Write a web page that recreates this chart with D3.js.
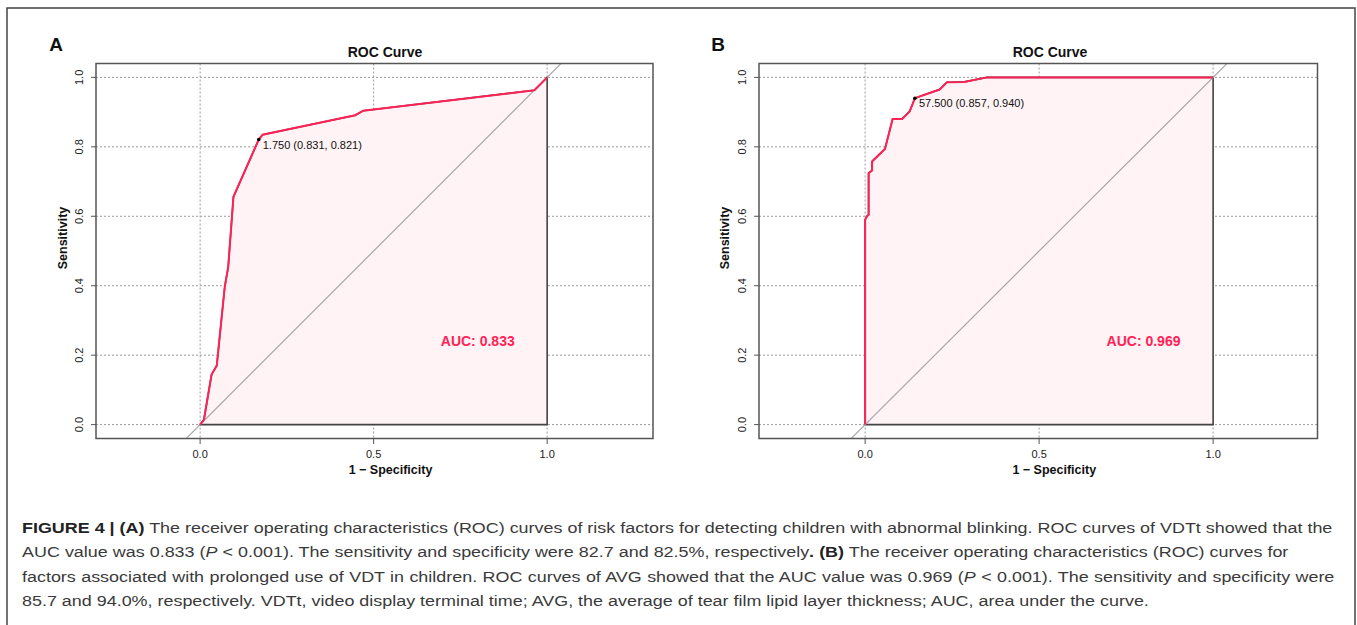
<!DOCTYPE html>
<html>
<head>
<meta charset="utf-8">
<script src="https://cdn.jsdelivr.net/npm/d3@7"></script>
<style>
  body { margin: 0; background: #fff; }
  text { font-family: "Liberation Sans", Arial, sans-serif; }
</style>
</head>
<body>
<svg id="chart"></svg>
<script>
// panel A: VDTt
var rocA_fpr = [0, 0.011, 0.033, 0.048, 0.071, 0.081, 0.096, 0.169, 0.18, 0.447, 0.47, 0.963, 1];
var rocA_tpr = [0, 0.014, 0.144, 0.17, 0.397, 0.454, 0.656, 0.821, 0.835, 0.891, 0.904, 0.963, 1];
// panel B: AVG
var rocB_fpr = [0, 0, 0.005, 0.01, 0.01, 0.02, 0.02, 0.057, 0.079, 0.106, 0.128, 0.143, 0.154, 0.179, 0.214, 0.235, 0.285, 0.35, 1];
var rocB_tpr = [0, 0.59, 0.60, 0.604, 0.724, 0.732, 0.758, 0.794, 0.880, 0.880, 0.902, 0.940, 0.944, 0.953, 0.965, 0.986, 0.987, 1.0, 1.0];

var panel_labels = ["A", "B"];
var best_points = [
  { fpr: 0.169, tpr: 0.821, label: "1.750 (0.831, 0.821)" },
  { fpr: 0.143, tpr: 0.940, label: "57.500 (0.857, 0.940)" }
];
var auc_labels = ["AUC: 0.833", "AUC: 0.969"];
var x_ticks = [0, 0.5, 1];
var y_ticks = [0, 0.2, 0.4, 0.6, 0.8, 1];

var caption_lines = [
  [["FIGURE 4 | (A)", "b"], [" The receiver operating characteristics (ROC) curves of risk factors for detecting children with abnormal blinking. ROC curves of VDTt showed that the", ""]],
  [["AUC value was 0.833 (", ""], ["P", "i"], [" < 0.001). The sensitivity and specificity were 82.7 and 82.5%, respectively", ""], [". (B)", "b"], [" The receiver operating characteristics (ROC) curves for", ""]],
  [["factors associated with prolonged use of VDT in children. ROC curves of AVG showed that the AUC value was 0.969 (", ""], ["P", "i"], [" < 0.001). The sensitivity and specificity were", ""]],
  [["85.7 and 94.0%, respectively. VDTt, video display terminal time; AVG, the average of tear film lipid layer thickness; AUC, area under the curve.", ""]]
];

var width = 1357, height = 625;
var red = "#ff2257";

var svg = d3.select("#chart").attr("width", width).attr("height", height);

svg.append("rect").attr("x", 7).attr("y", 8).attr("width", 1348).attr("height", 660)
  .attr("fill", "none").attr("stroke", "#444").attr("stroke-width", 1.5);

var panels = [
  { fpr: rocA_fpr, tpr: rocA_tpr, left: 96, right: 653, dom: [-0.3, 1.305], titleX: 385, labX: 56, ylabX: 63, ytickX: 79 },
  { fpr: rocB_fpr, tpr: rocB_tpr, left: 759, right: 1317.5, dom: [-0.305, 1.30], titleX: 1050, labX: 718, ylabX: 725, ytickX: 742 }
];

panels.forEach(function(p, i) {
  var x = d3.scaleLinear().domain(p.dom).range([p.left, p.right]);
  var y = d3.scaleLinear().domain([-0.04, 1.04]).range([438.5, 63.5]);
  var g = svg.append("g");
  var clipId = "clip" + i;
  g.append("clipPath").attr("id", clipId).append("rect")
    .attr("x", p.left).attr("y", 63.5).attr("width", p.right - p.left).attr("height", 375);

  // grid
  g.selectAll(".gx").data(x_ticks).enter().append("line")
    .attr("x1", d => x(d)).attr("x2", d => x(d)).attr("y1", 63.5).attr("y2", 438.5)
    .attr("stroke", "#9a9a9a").attr("stroke-dasharray", "2,2").attr("stroke-width", 1);
  g.selectAll(".gy").data(y_ticks).enter().append("line")
    .attr("y1", d => y(d)).attr("y2", d => y(d)).attr("x1", p.left).attr("x2", p.right)
    .attr("stroke", "#9a9a9a").attr("stroke-dasharray", "2,2").attr("stroke-width", 1);

  var pts = p.fpr.map((f, k) => [f, p.tpr[k]]);
  var poly = pts.concat([[1, 0], [0, 0]]);
  g.append("path")
    .attr("d", d3.line().x(d => x(d[0])).y(d => y(d[1]))(poly) + "Z")
    .attr("fill", "#fff3f5").attr("stroke", "#444").attr("stroke-width", 1.6);

  // identity line
  g.append("line").attr("clip-path", "url(#" + clipId + ")")
    .attr("x1", x(-0.1)).attr("y1", y(-0.1)).attr("x2", x(1.1)).attr("y2", y(1.1))
    .attr("stroke", "#a8a8a8").attr("stroke-width", 1.2);

  g.append("path")
    .attr("d", d3.line().x(d => x(d[0])).y(d => y(d[1]))(pts))
    .attr("fill", "none").attr("stroke", red).attr("stroke-width", 2);

  var bp = best_points[i];
  g.append("circle").attr("cx", x(bp.fpr)).attr("cy", y(bp.tpr)).attr("r", 1.8).attr("fill", "#000");
  g.append("text").attr("x", x(bp.fpr) + 4).attr("y", y(bp.tpr) + 9)
    .attr("font-size", 11).attr("fill", "#111").text(bp.label);

  g.append("text").attr("x", x(0.80)).attr("y", y(0.24) + 5).attr("text-anchor", "middle")
    .attr("font-size", 14).attr("font-weight", "bold").attr("fill", red).text(auc_labels[i]);

  // box
  g.append("rect").attr("x", p.left).attr("y", 63.5).attr("width", p.right - p.left).attr("height", 375)
    .attr("fill", "none").attr("stroke", "#555").attr("stroke-width", 1.5);

  // axes
  g.selectAll(".tx").data(x_ticks).enter().append("line")
    .attr("x1", d => x(d)).attr("x2", d => x(d)).attr("y1", 438.5).attr("y2", 444)
    .attr("stroke", "#555");
  g.selectAll(".lx").data(x_ticks).enter().append("text")
    .attr("x", d => x(d)).attr("y", 458).attr("text-anchor", "middle")
    .attr("font-size", 11).attr("fill", "#222").text(d => d3.format(".1f")(d));
  g.selectAll(".ty").data(y_ticks).enter().append("line")
    .attr("y1", d => y(d)).attr("y2", d => y(d)).attr("x1", p.left).attr("x2", p.left - 5)
    .attr("stroke", "#555");
  g.selectAll(".ly").data(y_ticks).enter().append("text")
    .attr("transform", d => `translate(${p.ytickX + 4},${y(d)}) rotate(-90)`)
    .attr("text-anchor", "middle")
    .attr("font-size", 11).attr("fill", "#222").text(d => d3.format(".1f")(d));

  g.append("text").attr("x", p.titleX).attr("y", 57).attr("text-anchor", "middle")
    .attr("font-size", 14).attr("font-weight", "bold").attr("fill", "#111").text("ROC Curve");
  g.append("text").attr("x", p.labX).attr("y", 51).attr("text-anchor", "middle")
    .attr("font-size", 19).attr("font-weight", "bold").attr("fill", "#111").text(panel_labels[i]);
  g.append("text").attr("x", (p.left + p.right) / 2 + 16).attr("y", 474).attr("text-anchor", "middle")
    .attr("font-size", 12.5).attr("font-weight", "bold").attr("fill", "#111").text("1 \u2212 Specificity");
  g.append("text").attr("transform", `translate(${p.ylabX + 4},238) rotate(-90)`).attr("text-anchor", "middle")
    .attr("font-size", 12.5).attr("font-weight", "bold").attr("fill", "#111").text("Sensitivity");
});

// caption: fit the first line by narrowing glyphs, justify lines 2-3 with word spacing
var line_ends = [1333, 1289, 1335];
var caps = caption_lines.map(function(segs, i) {
  var t = svg.append("text").attr("x", 0).attr("y", 0)
    .attr("font-size", 15.5).attr("fill", "#3a3a3a");
  segs.forEach(function(s) {
    var ts = t.append("tspan").text(s[0]);
    if (s[1] === "b") ts.attr("font-weight", "bold").attr("fill", "#222");
    if (s[1] === "i") ts.attr("font-style", "italic");
  });
  return t;
});
var sx = (line_ends[0] - 22) / caps[0].node().getComputedTextLength();
caps.forEach(function(t, i) {
  var natural = t.node().getComputedTextLength();
  var spaces = t.text().split(" ").length - 1;
  var ws = (i > 0 && i < 3) ? ((line_ends[i] - 22) / sx - natural) / spaces : 0;
  t.attr("word-spacing", ws)
    .attr("transform", `translate(22,${533 + i * 24.3}) scale(${sx},1)`);
});
</script>
</body>
</html>
